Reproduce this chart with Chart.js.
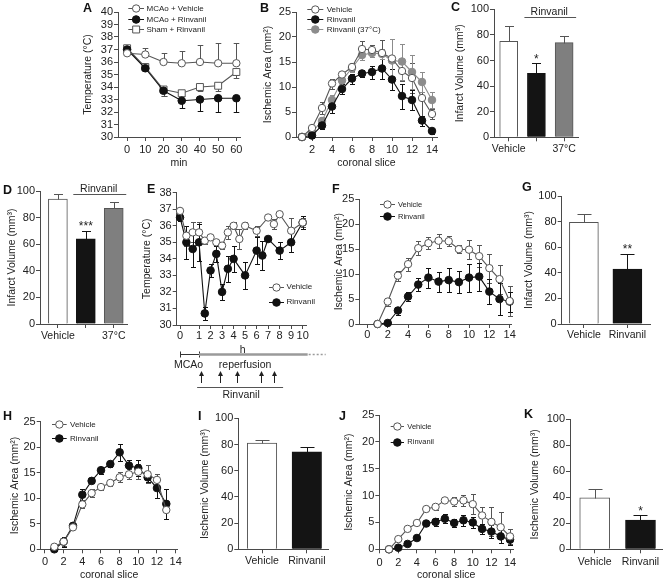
<!DOCTYPE html>
<html><head><meta charset="utf-8">
<script src="https://cdn.jsdelivr.net/npm/chart.js@4.4.1/dist/chart.umd.min.js"></script>
<style>
html,body{margin:0;padding:0;background:#fff;}
#fig{position:relative;width:664px;height:581px;overflow:hidden;background:#fff;}
#fig canvas{position:absolute;}
.lt{position:absolute;font:bold 12.5px "Liberation Sans",Arial,sans-serif;line-height:12px;color:#111;}
</style></head><body><div id="fig"></div>
<script>
// ---------------- DATA ----------------
// A: body temperature during MCAo
const A_MIN = [0,10,20,30,40,50,60];
const A_XTICKS = [0,10,20,30,40,50,60];
const A_YTICKS = [30,31,32,33,34,35,36,37,38,39,40];
const A_VEH = [36.7,36.6,36.0,35.9,36.0,35.9,35.9];
const A_VEH_ERR = [0.2,0.5,0.7,1.0,1.4,1.6,1.6];
const A_RIN = [37.0,35.5,33.7,32.9,33.0,33.1,33.1];
const A_RIN_ERR = [0.1,0.2,0.4,0.6,0.9,1.1,1.1];
const A_SHAM = [37.1,35.6,33.8,33.5,34.0,34.1,35.2];
const A_SHAM_ERR = [0.1,0.2,0.5,0.2,0.3,0.4,0.5];
const A_LEGEND = ['MCAo + Vehicle','MCAo + Rinvanil','Sham + Rinvanil'];

// B: ischemic area per slice
const B_SLICE = [1,2,3,4,5,6,7,8,9,10,11,12,13,14];
const B_XTICKS = [2,4,6,8,10,12,14];
const AREA_YTICKS = [0,5,10,15,20,25];
const B_VEH = [0,1.8,5.8,10.7,12.5,14.0,17.6,17.4,16.8,15.7,13.2,11.8,7.8,4.6];
const B_VEH_ERR = [0,0.5,1.2,1.0,0.6,0.8,1.6,1.0,2.6,4.0,2.0,3.0,3.5,1.0];
const B_RIN = [0,0.3,2.3,6.1,9.6,11.7,12.7,13.0,13.7,11.5,8.2,7.4,3.3,1.2];
const B_RIN_ERR = [0,0.5,0.7,1.3,1.0,1.0,0.7,1.3,2.0,2.2,2.5,2.0,1.0,0.5];
const B_R37 = [0,1.0,3.2,7.4,11.3,13.8,16.4,16.8,16.6,15.3,15.1,13.0,11.0,7.4];
const B_R37_ERR = [0,0.4,0.8,1.0,1.0,0.8,0.9,0.7,1.0,4.3,3.6,3.4,2.0,1.5];
const B_LEGEND = ['Vehicle','Rinvanil','Rinvanil (37°C)'];

// C, D: infarct volume
const VOL_YTICKS = [0,20,40,60,80,100];
const C_LABELS = ['Vehicle','','37°C'];
const C_VALS = [75,50,74];
const C_ERR = [12,8,5];
const D_LABELS = ['Vehicle','','37°C'];
const D_VALS = [94,64,87];
const D_ERR = [4,6,5];

// E: temperature over 10 h
const E_XTICKS = [0,1,2,3,4,5,6,7,8,9,10];
const E_YTICKS = [30,31,32,33,34,35,36,37,38];
const E_VEH_H = [0,1/3,2/3,1,1.5,2,2.5,3,3.5,4,4.5,5,6,7,7.5,8,9,10];
const E_VEH = [36.9,35.4,35.6,35.6,35.1,35.3,35.0,34.8,35.6,36.0,35.2,36.0,35.7,36.5,36.1,36.7,35.7,36.2];
const E_VEH_ERR = [0.2,0.6,0.6,0.6,0.2,0.1,0.2,0.2,0.4,0.2,0.6,0.2,0.3,0.1,0.3,0.1,0.8,0.3];
const E_RIN_H = [0,1/3,2/3,1,1.5,2,2.5,3,3.5,4,5,6,6.5,7,8,9,10];
const E_RIN = [36.5,35.0,34.6,35.0,30.7,33.3,34.3,32.0,33.4,34.0,33.0,34.5,34.2,35.2,34.5,35.0,36.2];
const E_RIN_ERR = [0.2,1.0,1.1,1.1,0.4,0.4,0.5,0.5,0.8,0.8,0.8,0.8,0.9,0.1,0.5,0.6,0.4];
const E_DOSE_H = [1.15,2.8,4.3,6.4,7.5];
const TWO_LEGEND = ['Vehicle','Rinvanil'];

// F
const F_SLICE = [1,2,3,4,5,6,7,8,9,10,11,12,13,14];
const SLICE_TICKS = [0,2,4,6,8,10,12,14];
const F_VEH = [0,4.5,9.7,12.0,15.2,16.2,16.7,16.6,15.0,14.9,13.6,11.2,9.0,4.6];
const F_VEH_ERR = [0,0.8,1.0,1.3,1.4,1.2,1.4,1.0,0.8,1.9,2.2,2.9,2.9,3.0];
const F_RIN = [0,0.2,2.7,5.5,7.9,9.3,8.5,8.8,8.4,9.3,9.5,6.5,5.0,4.5];
const F_RIN_ERR = [0,0.3,0.8,0.9,1.3,2.0,2.0,2.4,2.2,2.8,2.8,2.5,3.2,2.0];

// G
const TWO_LABELS = ['Vehicle','Rinvanil'];
const G_VALS = [79.5,43];
const G_ERR = [6.5,12];

// H
const H_SLICE = [1,2,3,4,5,6,7,8,9,10,11,12,13];
const H_VEH = [0.5,1.5,4.3,8.8,11.0,12.2,13.0,14.1,14.7,15.2,14.7,13.6,7.7];
const H_VEH_ERR = [0.5,0.8,0.3,0.8,0.8,0.5,0.6,1.0,1.0,1.5,1.8,1.2,1.8];
const H_RIN = [0,1.5,4.6,10.7,13.4,15.5,16.7,19.0,16.4,15.9,14.1,12.0,8.9];
const H_RIN_ERR = [0,1.0,0.3,1.2,0.5,0.7,0.5,1.7,1.0,1.5,1.0,2.0,3.0];

// I
const I_VALS = [81,74.5];
const I_ERR = [2.5,3.5];

// J
const J_SLICE = [1,2,3,4,5,6,7,8,9,10,11,12,13,14];
const J_VEH = [0,1.9,3.8,4.9,7.5,7.9,9.1,8.9,9.1,8.4,6.3,5.1,4.1,2.4];
const J_VEH_ERR = [0,0.2,0.3,0.3,0.4,0.6,0.3,0.8,1.1,1.9,1.5,2.7,2.9,1.4];
const J_RIN = [0,0.3,1.0,2.1,4.8,5.1,5.7,4.9,5.4,5.0,3.8,3.3,2.4,1.8];
const J_RIN_ERR = [0,0.2,0.2,0.3,0.5,0.8,0.8,0.8,1.0,1.1,0.9,1.2,1.3,1.0];

// K
const K_VALS = [39.5,22.5];
const K_ERR = [6.5,3.8];

// ---------------- STYLE / HELPERS ----------------
const FONT = '"Liberation Sans", Arial, Helvetica, sans-serif';
Chart.defaults.font.family = FONT;
Chart.defaults.color = '#222';
const AXC = '#4a4a4a';
const STYLE = {
  veh:  {c:'#555', fill:'#fff', ps:'circle', r:3.7},
  rin:  {c:'#111', fill:'#111', ps:'circle', r:3.8},
  sham: {c:'#555', fill:'#fff', ps:'rect',   r:4.9},
  gray: {c:'#8c8c8c', fill:'#8c8c8c', ps:'circle', r:3.8}
};
const BAR_FILL = ['#ffffff','#141414','#7f7f7f'];
const BAR_EDGE = ['#555555','#141414','#555555'];
const warp = h => (h < 1 ? h * 1.65 : h + 0.65);   // stretched first hour of panel E axis

const fig = document.getElementById('fig');

function lineDS(xs, ys, kind, xf) {
  const st = STYLE[kind]; const f = xf || (v => v);
  return { data: xs.map((x, i) => ({x: f(x), y: ys[i]})), borderColor: st.c, borderWidth: 1.1,
    pointStyle: st.ps, pointRadius: st.r, pointBorderWidth: 1, pointBorderColor: st.c,
    pointBackgroundColor: st.fill, tension: 0, clip: false, pointHoverRadius: st.r };
}
function barDS(vals, bw) {
  return { data: vals.map((v, i) => ({x: i + 1, y: v})), backgroundColor: BAR_FILL.slice(0, vals.length),
    borderColor: BAR_EDGE.slice(0, vals.length), borderWidth: 1, barThickness: bw, borderSkipped: 'bottom' };
}
function axis(min, max, tickVals, o) {
  o = o || {};
  const f = o.map || (v => v);
  return {
    type: 'linear', min, max, offset: false, bounds: 'data',
    afterBuildTicks: s => { s.ticks = tickVals.map(v => ({value: f(v)})); },
    ticks: { autoSkip: false, maxRotation: 0, minRotation: 0, includeBounds: false,
      padding: o.pad === undefined ? 1 : o.pad, font: {size: o.fs || 11}, color: '#222',
      callback: (v, i) => (o.labels ? o.labels[i] : String(tickVals[i])) },
    grid: { display: true, drawOnChartArea: false, drawTicks: true, tickLength: 4, color: AXC, lineWidth: 1, offset: false },
    border: { display: true, color: AXC, width: 1 },
    title: o.title ? { display: true, text: o.title, font: {size: 10.5}, padding: 0, color: '#222' } : { display: false }
  };
}
function marker(ctx, st, x, y) {
  ctx.beginPath();
  if (st.ps === 'rect') { const s = st.r * Math.SQRT1_2; ctx.rect(x - s, y - s, 2 * s, 2 * s); }
  else ctx.arc(x, y, st.r, 0, Math.PI * 2);
  ctx.fillStyle = st.fill; ctx.fill(); ctx.strokeStyle = st.c; ctx.lineWidth = 1; ctx.stroke();
}
function drawErrs(chart, sp) {
  const ctx = chart.ctx, ys = chart.scales.y;
  (sp.err || []).forEach((e, di) => {
    if (!e) return;
    const meta = chart.getDatasetMeta(di);
    const ds = chart.data.datasets[di].data;
    ctx.save(); ctx.lineWidth = 1;
    meta.data.forEach((el, j) => {
      const d = e.vals[j]; if (!d) return;
      const v = ds[j].y;
      ctx.strokeStyle = Array.isArray(e.color) ? e.color[j] : e.color;
      const x = Math.round(el.x) + 0.5;
      const top = Math.round(ys.getPixelForValue(v + (e.dir === 'down' ? 0 : d))) + 0.5;
      const bot = Math.round(ys.getPixelForValue(v - (e.dir === 'up' ? 0 : d))) + 0.5;
      const cw = e.cap;
      ctx.beginPath(); ctx.moveTo(x, top); ctx.lineTo(x, bot);
      if (e.dir !== 'down') { ctx.moveTo(x - cw, top); ctx.lineTo(x + cw, top); }
      if (e.dir !== 'up') { ctx.moveTo(x - cw, bot); ctx.lineTo(x + cw, bot); }
      ctx.stroke();
    });
    ctx.restore();
  });
}
function drawLegend(chart, sp) {
  const ctx = chart.ctx, L = sp.L, T = sp.T, lg = sp.legend;
  lg.items.forEach(it => {
    const st = STYLE[it.kind]; const y = it.y - T;
    ctx.save();
    ctx.strokeStyle = st.c; ctx.lineWidth = 1;
    ctx.beginPath(); ctx.moveTo(lg.x0 - L, Math.round(y) + 0.5); ctx.lineTo(lg.x1 - L, Math.round(y) + 0.5); ctx.stroke();
    marker(ctx, st, (lg.x0 + lg.x1) / 2 - L, Math.round(y) + 0.5);
    ctx.fillStyle = '#222'; ctx.font = lg.fs + 'px ' + FONT; ctx.textBaseline = 'middle'; ctx.textAlign = 'left';
    ctx.fillText(it.label, lg.tx - L, y + 0.5);
    ctx.restore();
  });
}
function barExtra(chart, ctx, sp) {
  const xs = chart.scales.x, ys = chart.scales.y;
  ctx.save(); ctx.fillStyle = '#222'; ctx.textAlign = 'center';
  if (sp.stars) {
    ctx.font = '12px ' + FONT; ctx.textBaseline = 'alphabetic';
    const i = sp.stars.i;
    const x = xs.getPixelForValue(i + 1);
    const y = ys.getPixelForValue(sp.vals[i] + sp.errs[i]);
    ctx.fillText(sp.stars.t, x, y - 0.5);
  }
  if (sp.bracket) {
    const bw = sp.bw;
    const a = xs.getPixelForValue(2) - bw / 2 - 3, b = xs.getPixelForValue(3) + bw / 2 + 3;
    const y = Math.round(ys.getPixelForValue(sp.bracket)) + 0.5;
    ctx.strokeStyle = '#555'; ctx.lineWidth = 1;
    ctx.beginPath(); ctx.moveTo(a, y); ctx.lineTo(b, y); ctx.stroke();
    ctx.font = '10.5px ' + FONT; ctx.textBaseline = 'alphabetic';
    ctx.fillText('Rinvanil', (a + b) / 2 - 1, y - 2.5);
  }
  ctx.restore();
}
function timeline(chart, ctx, sp) {
  const xs = chart.scales.x, T = sp.T;
  const px = h => xs.getPixelForValue(warp(h));
  const yl = Math.round(354 - T) + 0.5;
  ctx.save();
  ctx.strokeStyle = '#333'; ctx.lineWidth = 1;
  ctx.beginPath();
  ctx.moveTo(px(0), yl); ctx.lineTo(px(1), yl);
  ctx.moveTo(Math.round(px(0)) + 0.5, yl - 3); ctx.lineTo(Math.round(px(0)) + 0.5, yl + 3);
  ctx.moveTo(Math.round(px(1)) + 0.5, yl - 3); ctx.lineTo(Math.round(px(1)) + 0.5, yl + 3);
  ctx.stroke();
  ctx.strokeStyle = '#9a9a9a'; ctx.lineWidth = 2.5;
  ctx.beginPath(); ctx.moveTo(px(1), yl); ctx.lineTo(px(10) + 5, yl); ctx.stroke();
  ctx.setLineDash([2, 2]); ctx.lineWidth = 1.5;
  ctx.beginPath(); ctx.moveTo(px(10) + 6, yl); ctx.lineTo(px(10) + 23, yl); ctx.stroke();
  ctx.setLineDash([]);
  ctx.fillStyle = '#222'; ctx.font = '10.5px ' + FONT; ctx.textAlign = 'center'; ctx.textBaseline = 'alphabetic';
  ctx.fillText('h', px(4.8), yl - 1.5);
  ctx.fillText('MCAo', (px(0) + px(1)) / 2 - 1, 368 - T);
  ctx.fillText('reperfusion', px(5), 367.5 - T);
  // injection arrows
  ctx.strokeStyle = '#222'; ctx.lineWidth = 1;
  E_DOSE_H.forEach(h => {
    const x = Math.round(px(h)) + 0.5;
    ctx.beginPath(); ctx.moveTo(x, 383 - T); ctx.lineTo(x, 375 - T); ctx.stroke();
    ctx.beginPath(); ctx.moveTo(x, 371 - T); ctx.lineTo(x - 2.5, 376 - T); ctx.lineTo(x + 2.5, 376 - T); ctx.closePath(); ctx.fill();
  });
  ctx.strokeStyle = '#555';
  const ry = Math.round(387.3 - T) + 0.5;
  ctx.beginPath(); ctx.moveTo(px(0.9), ry); ctx.lineTo(px(8.3), ry); ctx.stroke();
  ctx.fillText('Rinvanil', px(4.65), 398 - T);
  ctx.restore();
}
const annot = {
  id: 'annot',
  beforeDatasetsDraw(chart) { const sp = chart.canvas._spec; if (sp && !sp.errAfter) drawErrs(chart, sp); },
  afterDatasetsDraw(chart) {
    const sp = chart.canvas._spec; if (!sp) return;
    if (sp.errAfter) drawErrs(chart, sp);
    if (sp.legend) drawLegend(chart, sp);
    if (sp.extra) sp.extra(chart, chart.ctx, sp);
  }
};
function mk(box, area, type, datasets, scales, spec) {
  const [L, T, W, H] = box, [x0, y0, x1, y1] = area;
  const c = document.createElement('canvas');
  c.width = W; c.height = H;
  c.style.left = L + 'px'; c.style.top = T + 'px';
  fig.appendChild(c);
  spec = spec || {}; spec.L = L; spec.T = T; c._spec = spec;
  scales.x.afterFit = s => { s.height = T + H - y1; };
  scales.y.afterFit = s => { s.width = x0 - L; };
  return new Chart(c, {
    type, data: { datasets }, plugins: [annot],
    options: { responsive: false, animation: false, devicePixelRatio: 1, events: [],
      layout: { padding: { left: 0, top: y0 - T, right: L + W - x1, bottom: 0 } },
      scales, plugins: { legend: { display: false }, tooltip: { enabled: false } } }
  });
}
function errSet(vals, dir, color, cap) { return {vals, dir, color, cap}; }
function legend2(x0, x1, tx, fs, y1, y2) {
  return {x0, x1, tx, fs, items: [{y: y1, label: TWO_LEGEND[0], kind: 'veh'}, {y: y2, label: TWO_LEGEND[1], kind: 'rin'}]};
}

// ---------------- PANELS ----------------
// A
mk([82,0,170,169],[118,12,240,137],'line',
  [lineDS(A_MIN, A_VEH, 'veh'), lineDS(A_MIN, A_RIN, 'rin'), lineDS(A_MIN, A_SHAM, 'sham')],
  { x: axis(-5, 62, A_XTICKS, {title: 'min', pad: 2}), y: axis(30, 40, A_YTICKS, {title: 'Temperature (°C)'}) },
  { err: [errSet(A_VEH_ERR,'up',STYLE.veh.c,2.8), errSet(A_RIN_ERR,'down',STYLE.rin.c,2.8), errSet(A_SHAM_ERR,'down',STYLE.sham.c,2.8)],
    legend: {x0: 128.3, x1: 144, tx: 146.5, fs: 8, items: [
      {y: 8.3, label: A_LEGEND[0], kind: 'veh'}, {y: 19, label: A_LEGEND[1], kind: 'rin'}, {y: 28.8, label: A_LEGEND[2], kind: 'sham'}]} });

// B
mk([262,0,185,169],[296,12,437,137],'line',
  [lineDS(B_SLICE, B_VEH, 'veh'), lineDS(B_SLICE, B_RIN, 'rin'), lineDS(B_SLICE, B_R37, 'gray')],
  { x: axis(0.4, 14.5, B_XTICKS, {title: 'coronal slice', pad: 2}), y: axis(0, 25, AREA_YTICKS, {title: 'Ischemic Area (mm²)'}) },
  { err: [errSet(B_VEH_ERR,'both',STYLE.veh.c,2.5), errSet(B_RIN_ERR,'both',STYLE.rin.c,2.5), errSet(B_R37_ERR,'both',STYLE.gray.c,2.5)],
    legend: {x0: 307.3, x1: 323.3, tx: 326.7, fs: 8, items: [
      {y: 9, label: B_LEGEND[0], kind: 'veh'}, {y: 19.2, label: B_LEGEND[1], kind: 'rin'}, {y: 29.3, label: B_LEGEND[2], kind: 'gray'}]} });

// C
mk([454,0,210,170],[494,9.3,578,137.3],'bar',
  [barDS(C_VALS, 18)],
  { x: axis(0.47, 3.5, [1,2,3], {labels: C_LABELS, fs: 10.5, pad: 2}), y: axis(0, 100, VOL_YTICKS, {title: 'Infarct Volume (mm³)'}) },
  { errAfter: true, err: [errSet(C_ERR,'up',BAR_EDGE,4.5)], vals: C_VALS, errs: C_ERR, bw: 18,
    stars: {i: 1, t: '*'}, bracket: 93.8, extra: barExtra });

// D
mk([6,178,134,172],[40,191,127.7,324],'bar',
  [barDS(D_VALS, 19)],
  { x: axis(0.36, 3.5, [1,2,3], {labels: D_LABELS, fs: 10.5, pad: 2}), y: axis(0, 100, VOL_YTICKS, {title: 'Infarct Volume (mm³)'}) },
  { errAfter: true, err: [errSet(D_ERR,'up',BAR_EDGE,4.5)], vals: D_VALS, errs: D_ERR, bw: 19,
    stars: {i: 1, t: '***'}, bracket: 97.7, extra: barExtra });

// E
mk([141,180,191,222],[176.7,192.7,306.7,325],'line',
  [lineDS(E_VEH_H, E_VEH, 'veh', warp), lineDS(E_RIN_H, E_RIN, 'rin', warp)],
  { x: axis(-0.29, 11.0, E_XTICKS, {map: warp, pad: 0}), y: axis(30, 38, E_YTICKS, {title: 'Temperature (°C)'}) },
  { err: [errSet(E_VEH_ERR,'both',STYLE.veh.c,2.5), errSet(E_RIN_ERR,'both',STYLE.rin.c,2.5)],
    legend: legend2(269, 284, 286.5, 8, 286.7, 301.7), extra: timeline });

// F
mk([333,186,189,162],[359.3,199.3,511.7,324],'line',
  [lineDS(F_SLICE, F_VEH, 'veh'), lineDS(F_SLICE, F_RIN, 'rin')],
  { x: axis(-0.8, 14.2, SLICE_TICKS, {pad: 0}), y: axis(0, 25, AREA_YTICKS, {title: 'Ischemic Area (mm²)'}) },
  { err: [errSet(F_VEH_ERR,'both',STYLE.veh.c,2.5), errSet(F_RIN_ERR,'both',STYLE.rin.c,2.5)],
    legend: legend2(380, 395, 398, 7.5, 204.3, 216) });

// G
mk([523,184,141,166],[561.7,196,650,324],'bar',
  [barDS(G_VALS, 29)],
  { x: axis(0.49, 2.52, [1,2], {labels: TWO_LABELS, fs: 10.5, pad: 0.5}), y: axis(0, 100, VOL_YTICKS, {title: 'Infarct Volume (mm³)'}) },
  { errAfter: true, err: [errSet(G_ERR,'up',BAR_EDGE,7)], vals: G_VALS, errs: G_ERR, bw: 29,
    stars: {i: 1, t: '**'}, extra: barExtra });

// H
mk([9,409,181,172],[40.7,421.7,177.5,549.3],'line',
  [lineDS(H_SLICE, H_VEH, 'veh'), lineDS(H_SLICE, H_RIN, 'rin')],
  { x: axis(-0.46, 14.2, SLICE_TICKS, {title: 'coronal slice', pad: 2}), y: axis(0, 25, AREA_YTICKS, {title: 'Ischemic Area (mm²)'}) },
  { err: [errSet(H_VEH_ERR,'both',STYLE.veh.c,2.5), errSet(H_RIN_ERR,'both',STYLE.rin.c,2.5)],
    legend: legend2(52, 66.7, 70, 8, 424, 438.3) });

// I
mk([199,406,143,169],[238.3,418.3,328.3,549.3],'bar',
  [barDS(I_VALS, 29.5)],
  { x: axis(0.47, 2.48, [1,2], {labels: TWO_LABELS, fs: 10.5, pad: 2}), y: axis(0, 100, VOL_YTICKS, {title: 'Ischemic Volume (mm³)'}) },
  { errAfter: true, err: [errSet(I_ERR,'up',BAR_EDGE,7)], vals: I_VALS, errs: I_ERR, bw: 29.5, extra: barExtra });

// J
mk([343,403,185,178],[379.3,415,513,549.3],'line',
  [lineDS(J_SLICE, J_VEH, 'veh'), lineDS(J_SLICE, J_RIN, 'rin')],
  { x: axis(-0.04, 14.32, SLICE_TICKS, {title: 'coronal slice', pad: 3}), y: axis(0, 25, AREA_YTICKS, {title: 'Ischemic Area (mm²)'}) },
  { err: [errSet(J_VEH_ERR,'both',STYLE.veh.c,2.5), errSet(J_RIN_ERR,'both',STYLE.rin.c,2.5)],
    legend: legend2(390.7, 404, 407.3, 7.5, 426, 441.7) });

// K
mk([529,407,135,169],[570,419.3,662,549.3],'bar',
  [barDS(K_VALS, 30)],
  { x: axis(0.46, 2.47, [1,2], {labels: TWO_LABELS, fs: 10.5, pad: 3}), y: axis(0, 100, VOL_YTICKS, {title: 'Ischemic Volume (mm³)'}) },
  { errAfter: true, err: [errSet(K_ERR,'up',BAR_EDGE,7)], vals: K_VALS, errs: K_ERR, bw: 30,
    stars: {i: 1, t: '*'}, extra: barExtra });

// panel letters
const LETTERS = [['A',83,4],['B',260,4],['C',451,3],['D',3,186],['E',147,185],['F',332,185],['G',522,183],['H',3,412],['I',198,412],['J',339,412],['K',524,410]];
LETTERS.forEach(([t, x, y]) => {
  const d = document.createElement('div'); d.className = 'lt'; d.textContent = t;
  d.style.left = x + 'px'; d.style.top = (y - 1.6) + 'px'; fig.appendChild(d);
});
</script></body></html>
